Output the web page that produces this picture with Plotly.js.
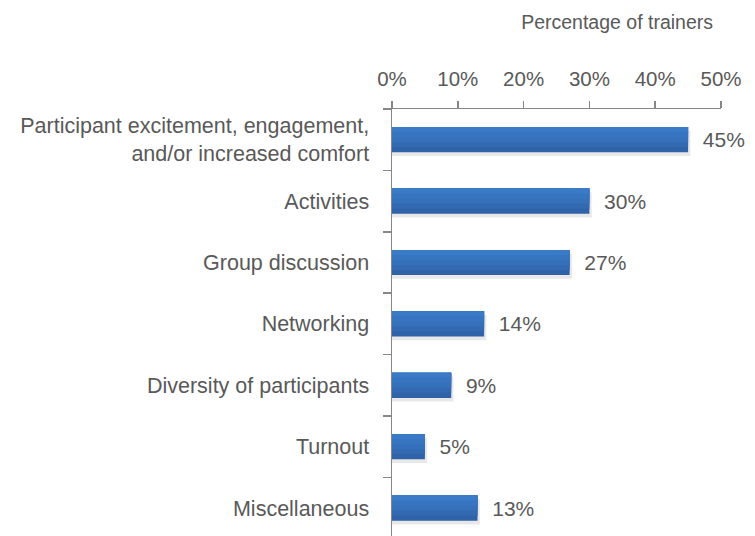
<!DOCTYPE html>
<html>
<head>
<meta charset="utf-8">
<script src="https://cdn.plot.ly/plotly-3.0.1.min.js"></script>
<style>html,body{margin:0;padding:0;background:#fff;}#chart{width:755px;height:536px;}</style>
</head>
<body>
<div id="chart"></div>
<script>
var categories = [
  "Participant excitement, engagement,<br>and/or increased comfort",
  "Activities",
  "Group discussion",
  "Networking",
  "Diversity of participants",
  "Turnout",
  "Miscellaneous"
];
var values = [45, 30, 27, 14, 9, 5, 13];
var tickValues = [0, 10, 20, 30, 40, 50];
var tickLabels = ["0%", "10%", "20%", "30%", "40%", "50%"];

var FONT = "Liberation Sans, Arial, sans-serif";
var GRAY = "#595959";
var BAR_W = 0.41;
// bottom (dark) to top (light)
var bandColors = ["#2f62a6", "#3269b1", "#3570ba", "#3875c1", "#3b7ac7"];

var traces = [];
// soft shadow behind the bars
traces.push({
  type: "bar", orientation: "h",
  x: values.map(function(v){ return v + 0.35; }),
  y: categories,
  width: BAR_W, offset: -BAR_W / 2 + 0.06,
  marker: {color: "rgba(0,0,0,0.09)", line: {width: 0}},
  hoverinfo: "none"
});
// stacked-from-top layers imitating the vertical gradient
var n = bandColors.length;
bandColors.forEach(function(c, i){
  traces.push({
    type: "bar", orientation: "h",
    x: values, y: categories,
    width: BAR_W * (n - i) / n, offset: -BAR_W / 2,
    marker: {color: c, line: {width: 0}},
    hoverinfo: "none"
  });
});
// value labels, centred on the bar
traces.push({
  type: "bar", orientation: "h",
  x: values, y: categories,
  width: BAR_W, offset: -BAR_W / 2,
  marker: {color: "rgba(0,0,0,0)", line: {width: 0}},
  text: values.map(function(v){ return "\u00a0\u00a0" + v + "%"; }),
  textposition: "outside",
  constraintext: "none",
  cliponaxis: false,
  textfont: {family: FONT, size: 21, color: GRAY},
  hoverinfo: "none"
});

var layout = {
  width: 755,
  height: 536,
  barmode: "overlay",
  margin: {l: 392, r: 34, t: 109, b: 0, pad: 0},
  paper_bgcolor: "#ffffff",
  plot_bgcolor: "#ffffff",
  showlegend: false,
  font: {family: FONT, color: GRAY},
  title: {
    text: "Percentage of trainers",
    font: {family: FONT, size: 19.5, color: GRAY},
    x: 713/755, xanchor: "right", xref: "container",
    y: 1 - 22/536, yanchor: "middle", yref: "container"
  },
  xaxis: {
    side: "top",
    range: [0, 50],
    tickvals: tickValues,
    ticktext: tickLabels,
    ticks: "outside",
    ticklen: 7,
    tickwidth: 1.5,
    tickcolor: "#868686",
    showline: true,
    linecolor: "#868686",
    linewidth: 1.5,
    showgrid: false,
    zeroline: false,
    ticklabelstandoff: 6,
    tickfont: {family: FONT, size: 20.5, color: GRAY}
  },
  yaxis: {
    type: "category",
    range: [6.454, -0.5],
    ticks: "outside",
    tickson: "boundaries",
    ticklen: 8,
    tickwidth: 1.5,
    tickcolor: "#868686",
    showline: true,
    linecolor: "#868686",
    linewidth: 1.5,
    showgrid: false,
    zeroline: false,
    ticklabelstandoff: 17,
    tickfont: {family: FONT, size: 21.5, color: GRAY}
  }
};

Plotly.newPlot("chart", traces, layout, {staticPlot: true, displayModeBar: false});
</script>
</body>
</html>
